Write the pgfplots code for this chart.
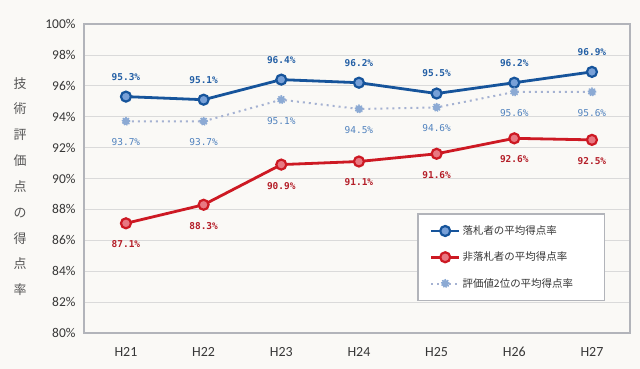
\documentclass[border=0pt]{standalone}
\usepackage{pgfplots}
\pgfplotsset{compat=1.18}
\usepackage{fontspec}
\setmainfont{Carlito}
\newfontfamily\jp{Noto Sans CJK JP}
\newfontfamily\lbl{DejaVu Sans Mono}
\definecolor{bgc}{RGB}{250,249,246}
\definecolor{bl}{RGB}{22,84,155}
\definecolor{blfill}{RGB}{120,160,215}
\definecolor{rd}{RGB}{205,25,35}
\definecolor{rdfill}{RGB}{232,120,130}
\definecolor{gy}{RGB}{165,178,210}
\definecolor{gymark}{RGB}{140,170,212}
\definecolor{bltext}{RGB}{35,95,165}
\definecolor{gytext}{RGB}{80,130,190}
\definecolor{rdtext}{RGB}{180,30,40}
\definecolor{gridc}{RGB}{218,218,218}
\definecolor{framec}{RGB}{178,180,186}
\definecolor{txt}{RGB}{55,55,55}
\begin{document}
\begin{tikzpicture}
\fill[bgc] (0,0) rectangle (640bp,369bp);
\begin{axis}[
  at={(84bp,36bp)}, anchor=south west,
  scale only axis, width=546bp, height=309bp,
  xmin=-0.54, xmax=6.49, ymin=80, ymax=100,
  xtick={0,...,6},
  xticklabels={H21,H22,H23,H24,H25,H26,H27},
  ytick={80,82,...,100},
  yticklabels={80\%,82\%,84\%,86\%,88\%,90\%,92\%,94\%,96\%,98\%,100\%},
  ymajorgrids, major grid style={gridc, line width=0.7bp},
  axis line style={framec, line width=1.2bp},
  major tick length=0pt,
  tick label style={txt, font=\fontsize{13.5}{15}\selectfont},
  yticklabel style={xshift=-5bp},
  xticklabel style={yshift=-11bp, font=\fontsize{14}{16}\selectfont},
  legend style={at={(0.61,0.388)}, anchor=north west,
    draw=framec, line width=1.5bp, fill=white,
    font=\jp\fontsize{10.5}{12}\selectfont, text=txt,
    inner xsep=12bp, inner ysep=10bp, row sep=12bp},
  legend cell align=left,
  legend image code/.code={\draw[mark repeat=2,mark phase=2,#1] plot coordinates {(0bp,0bp) (14bp,0bp) (28bp,0bp)};},
  point meta=explicit symbolic,
  nodes near coords,
  clip=false,
]
\addplot[bl, line width=2.8bp, mark=*, mark size=5bp,
  mark options={fill=blfill, draw=bl, line width=2.2bp, solid},
  nodes near coords style={bltext, font=\lbl\bfseries\fontsize{9.5}{11}\selectfont, anchor=center, yshift=20bp}]
  coordinates {(0,95.3)[95.3\%] (1,95.1)[95.1\%] (2,96.4)[96.4\%] (3,96.2)[96.2\%] (4,95.5)[95.5\%] (5,96.2)[96.2\%] (6,96.9)[96.9\%]};
\addlegendentry{\makebox[128bp][l]{落札者の平均得点率}}
\addplot[rd, line width=2.8bp, mark=*, mark size=5bp,
  mark options={fill=rdfill, draw=rd, line width=2.2bp, solid},
  nodes near coords style={rdtext, font=\lbl\bfseries\fontsize{9.5}{11}\selectfont, anchor=center, yshift=-21bp}]
  coordinates {(0,87.1)[87.1\%] (1,88.3)[88.3\%] (2,90.9)[90.9\%] (3,91.1)[91.1\%] (4,91.6)[91.6\%] (5,92.6)[92.6\%] (6,92.5)[92.5\%]};
\addlegendentry{\makebox[128bp][l]{非落札者の平均得点率}}
\addplot[gy, line width=2bp, dash pattern=on 2bp off 4bp, mark=*, mark size=3.6bp,
  mark options={fill=gymark, draw=gymark, line width=1.8bp, dash pattern=on 1.3bp off 1.1bp},
  nodes near coords style={gytext, font=\lbl\fontsize{9.5}{11}\selectfont, anchor=center, yshift=-21bp}]
  coordinates {(0,93.7)[93.7\%] (1,93.7)[93.7\%] (2,95.1)[95.1\%] (3,94.5)[94.5\%] (4,94.6)[94.6\%] (5,95.6)[95.6\%] (6,95.6)[95.6\%]};
\addlegendentry{\makebox[128bp][l]{評価値2位の平均得点率}}
\end{axis}
\node[align=center, text=txt!85, font=\jp\fontsize{13}{25.9}\selectfont, inner sep=0pt] at (20bp,182.5bp) {技\\術\\評\\価\\点\\の\\得\\点\\率};
\end{tikzpicture}
\end{document}
